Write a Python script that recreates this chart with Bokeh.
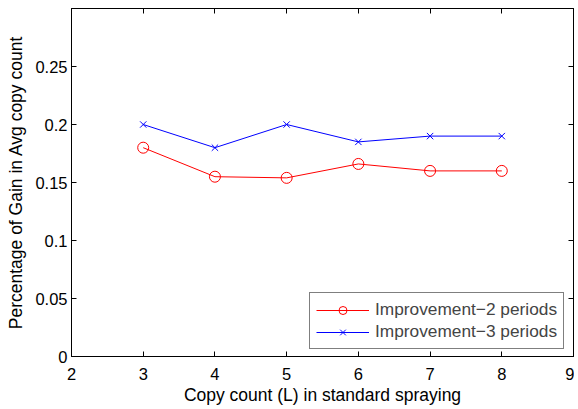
from bokeh.plotting import figure
from bokeh.models import Range1d, FixedTicker, LinearAxis, Legend, LegendItem
from bokeh.embed import file_html
from bokeh.resources import INLINE

# Data
copy_count = [3, 4, 5, 6, 7, 8]
improvement_2 = [0.180, 0.155, 0.154, 0.166, 0.160, 0.160]
improvement_3 = [0.200, 0.180, 0.200, 0.185, 0.190, 0.190]
series_names = ["Improvement\u22122 periods", "Improvement\u22123 periods"]
x_ticks = [2, 3, 4, 5, 6, 7, 8, 9]
y_ticks = [0, 0.05, 0.1, 0.15, 0.2, 0.25]
y_tick_labels = ["0", "0.05", "0.1", "0.15", "0.2", "0.25"]

FONT = "Liberation Sans"
TICK_FS = "16.5px"
LABEL_FS = "17.5px"
LEGEND_FS = "17.3px"

p = figure(frame_width=502, frame_height=348, output_backend="svg",
           toolbar_location=None, x_range=Range1d(2, 9), y_range=Range1d(0, 0.3),
           min_border_left=71, min_border_top=8, min_border_right=1, min_border_bottom=10,
           background_fill_color="white", border_fill_color="white")
p.xgrid.visible = False
p.ygrid.visible = False
p.outline_line_color = "black"
p.outline_line_width = 1

def style_axis(ax, ticks, show_labels):
    ax.ticker = FixedTicker(ticks=ticks)
    ax.major_tick_in = 5
    ax.major_tick_out = 0
    ax.minor_tick_line_color = None
    ax.axis_line_color = "black"
    ax.major_tick_line_color = "black"
    ax.major_label_text_font = FONT
    ax.major_label_text_color = "black"
    ax.axis_label_text_font = FONT
    ax.axis_label_text_font_style = "normal"
    ax.axis_label_text_font_size = LABEL_FS
    ax.axis_label_text_color = "black"
    if show_labels:
        ax.major_label_text_font_size = TICK_FS
    else:
        ax.major_label_text_font_size = "0px"
        ax.major_label_standoff = 0
        ax.major_label_text_color = None

style_axis(p.xaxis[0], x_ticks, True)
style_axis(p.yaxis[0], y_ticks, True)
p.xaxis[0].axis_label = "Copy count (L) in standard spraying"
p.yaxis[0].axis_label = "Percentage of Gain in Avg copy count"
p.yaxis[0].major_label_overrides = {t: l for t, l in zip(y_ticks, y_tick_labels)}
p.xaxis[0].major_label_standoff = 11
p.yaxis[0].major_label_standoff = 4
p.xaxis[0].axis_label_standoff = 2
p.yaxis[0].axis_label_standoff = 6

top = LinearAxis()
style_axis(top, x_ticks, False)
p.add_layout(top, "above")
right = LinearAxis()
style_axis(right, y_ticks, False)
p.add_layout(right, "right")

l2 = p.line(copy_count, improvement_2, line_color="#ff0000", line_width=1)
m2 = p.scatter(copy_count, improvement_2, marker="circle", size=11,
               line_color="#ff0000", fill_color=None, line_width=1)
l3 = p.line(copy_count, improvement_3, line_color="#0000ff", line_width=1)
m3 = p.scatter(copy_count, improvement_3, marker="x", size=9,
               line_color="#0000ff", line_width=1)

legend = Legend(items=[LegendItem(label=series_names[0], renderers=[l2, m2]),
                       LegendItem(label=series_names[1], renderers=[l3, m3])],
                location=(238, 7))
legend.border_line_color = "black"
legend.border_line_width = 1
legend.label_text_font = FONT
legend.label_text_font_size = LEGEND_FS
legend.glyph_width = 53
legend.glyph_height = 20
legend.label_standoff = 6
legend.spacing = 1
legend.padding = 6
legend.margin = 0
legend.label_height = 20
p.add_layout(legend)

open("out.html", "w").write(file_html(p, INLINE))
